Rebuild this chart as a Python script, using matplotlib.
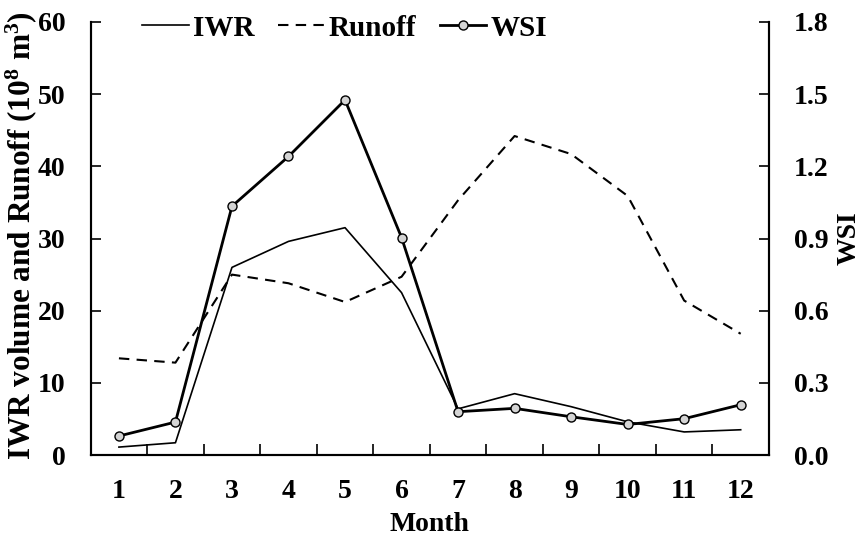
import matplotlib
matplotlib.use("Agg")
import matplotlib.pyplot as plt
import numpy as np

plt.rcParams['font.family'] = 'Liberation Serif'
plt.rcParams['font.weight'] = 'bold'
plt.rcParams['mathtext.fontset'] = 'custom'
plt.rcParams['mathtext.rm'] = 'Liberation Serif:bold'
plt.rcParams['mathtext.default'] = 'rm'

months = np.arange(1, 13)
iwr = [1.1, 1.7, 26.0, 29.6, 31.5, 22.5, 6.4, 8.5, 6.7, 4.6, 3.2, 3.5]
runoff = [13.4, 12.8, 25.0, 23.8, 21.2, 24.7, 35.3, 44.2, 41.7, 35.9, 21.4, 16.8]
wsi = [0.079, 0.137, 1.034, 1.241, 1.476, 0.904, 0.180, 0.194, 0.159, 0.127, 0.151, 0.209]

fig = plt.figure(figsize=(8.61, 5.39), dpi=100)
ax = fig.add_axes([0.1053, 0.1558, 0.7878, 0.8034])
ax2 = ax.twinx()

l1, = ax.plot(months, iwr, color='black', lw=1.2, label='IWR')
l2, = ax.plot(months, runoff, color='black', lw=1.5, ls=(0, (5, 3.5)), label='Runoff')
l3, = ax2.plot(months, wsi, color='black', lw=2.0, marker='o', ms=6.5,
               mfc='#d4d4d4', mec='black', mew=1.0, label='WSI')

ax.set_xlim(0.5, 12.5)
ax.set_ylim(0, 60)
ax2.set_ylim(0, 1.8)
ax.set_yticks(np.arange(0, 61, 10))
ax2.set_yticks(np.arange(0, 1.81, 0.3))
ax2.set_yticklabels([f"{v:.1f}" for v in np.arange(0, 1.81, 0.3)])

ax.set_xticks(months)
ax.set_xticks(np.arange(1.5, 12, 1), minor=True)
ax.tick_params(axis='x', which='major', length=0, pad=17, labelsize=20)
ax.tick_params(axis='x', which='minor', direction='in', length=8, width=1.2)
ax.tick_params(axis='y', direction='in', length=7, width=1.2, labelsize=20, pad=18)
ax2.tick_params(axis='y', direction='in', length=7, width=1.2, labelsize=20, pad=18)

for a in (ax, ax2):
    for s in a.spines.values():
        s.set_linewidth(1.5)
    a.spines['top'].set_visible(False)

ax.set_xlabel('Month', fontsize=20, fontweight='bold', labelpad=6)
ax.set_ylabel(r'IWR volume and Runoff (10$^{8}$ m$^{3}$)', fontsize=22.5, fontweight='bold')
ax.yaxis.set_label_coords(-0.0755, 0.507)
ax2.set_ylabel('WSI', fontsize=20, fontweight='bold', rotation=90, labelpad=6)

leg = ax.legend(handles=[l1, l2, l3], loc='center left', bbox_to_anchor=(0.0756, 0.986),
                ncol=3, frameon=False, fontsize=21, handlelength=1.6,
                handletextpad=0.15, columnspacing=0.8, borderaxespad=0, borderpad=0)

fig.savefig('out.png', dpi=100)
